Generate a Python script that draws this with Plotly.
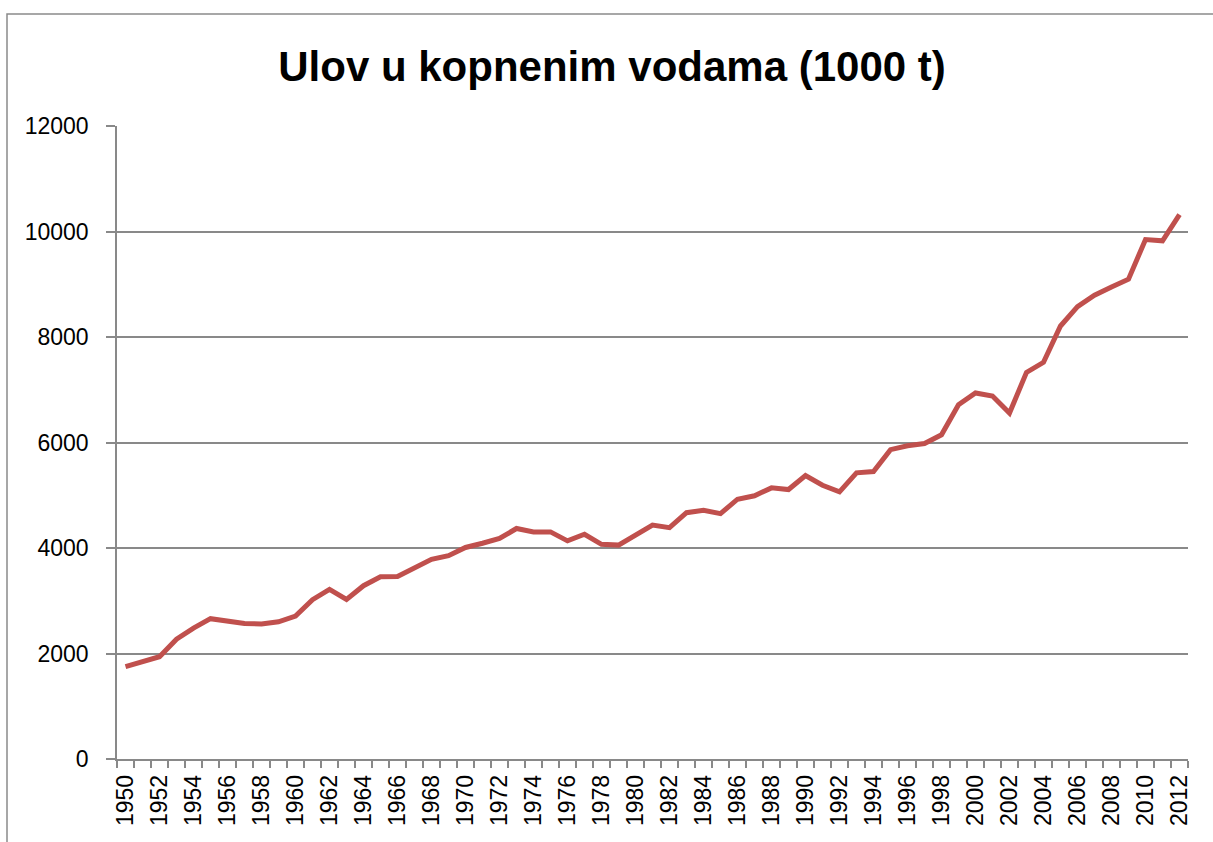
import plotly.graph_objects as go

years = list(range(1950, 2013))
catch = [1750, 1850, 1940, 2270, 2480, 2660, 2620, 2570, 2560, 2600,
         2710, 3020, 3215, 3025, 3285, 3455, 3460, 3620, 3785, 3855,
         4010, 4090, 4180, 4370, 4305, 4305, 4135, 4260, 4070, 4055,
         4245, 4435, 4385, 4670, 4715, 4652, 4925, 4990, 5140, 5108,
         5375, 5190, 5065, 5425, 5450, 5865, 5937, 5981, 6146, 6716,
         6939, 6882, 6558, 7329, 7520, 8209, 8576, 8792, 8950, 9096,
         9848, 9823, 10318]
label_years = years[::2]
y_ticks = [0, 2000, 4000, 6000, 8000, 10000, 12000]

title_text = "Ulov u kopnenim vodama (1000 t)"

W, H = 1213, 842
L, R, T, B = 117, 25, 126, 83
pw, ph = W - L - R, H - T - B

fig = go.Figure()
fig.add_trace(go.Scatter(
    x=years, y=catch, mode="lines",
    line=dict(color="#C0504D", width=5),
    hoverinfo="x+y", showlegend=False,
))

grid_col = "#898989"
fig.update_layout(
    width=W, height=H,
    margin=dict(l=L, r=R, t=T, b=B, autoexpand=False),
    paper_bgcolor="white", plot_bgcolor="white",
    title=dict(text=title_text, x=612 / W, xanchor="center",
               y=1 - 66 / H, yanchor="middle", yref="container",
               font=dict(family="Liberation Sans", size=42, color="black",
                         weight="bold")),
    font=dict(family="Liberation Sans", size=23, color="black"),
)
fig.update_xaxes(
    range=[years[0] - 0.5, years[-1] + 0.5],
    tickmode="array", tickvals=label_years,
    ticktext=[str(y) for y in label_years],
    tickangle=-90, ticks="", ticklen=0,
    ticklabelstandoff=5,
    showline=True, linecolor=grid_col, linewidth=1.5,
    showgrid=False, zeroline=False,
    minor=dict(tickmode="array", tickvals=[y - 0.5 for y in years] + [years[-1] + 0.5],
               ticks="outside", ticklen=7, tickcolor=grid_col, tickwidth=1.5,
               showgrid=False),
    tickfont=dict(family="Liberation Sans", size=23, color="black"),
    automargin=False,
)
fig.update_yaxes(
    range=[0, 12000], tickmode="array", tickvals=y_ticks,
    ticktext=[str(v) for v in y_ticks],
    ticks="outside", ticklen=9, tickcolor=grid_col, tickwidth=1.5,
    ticklabelstandoff=13,
    showline=True, linecolor=grid_col, linewidth=1.5,
    showgrid=True, gridcolor=grid_col, gridwidth=1.5,
    zeroline=False,
    tickfont=dict(family="Liberation Sans", size=23, color="black"),
    automargin=False,
)
# outer chart frame
fig.add_shape(type="rect", xref="paper", yref="paper",
              x0=(7 - L) / pw, x1=(W + 2 - L) / pw,
              y0=-(B + 2) / ph, y1=(H - B - 14) / ph,
              line=dict(color="#8a8a8a", width=1.5), layer="below")

fig.write_html("out.html", config={"displayModeBar": False},
               post_script="document.body.style.margin='0px';document.body.style.overflow='hidden';")
